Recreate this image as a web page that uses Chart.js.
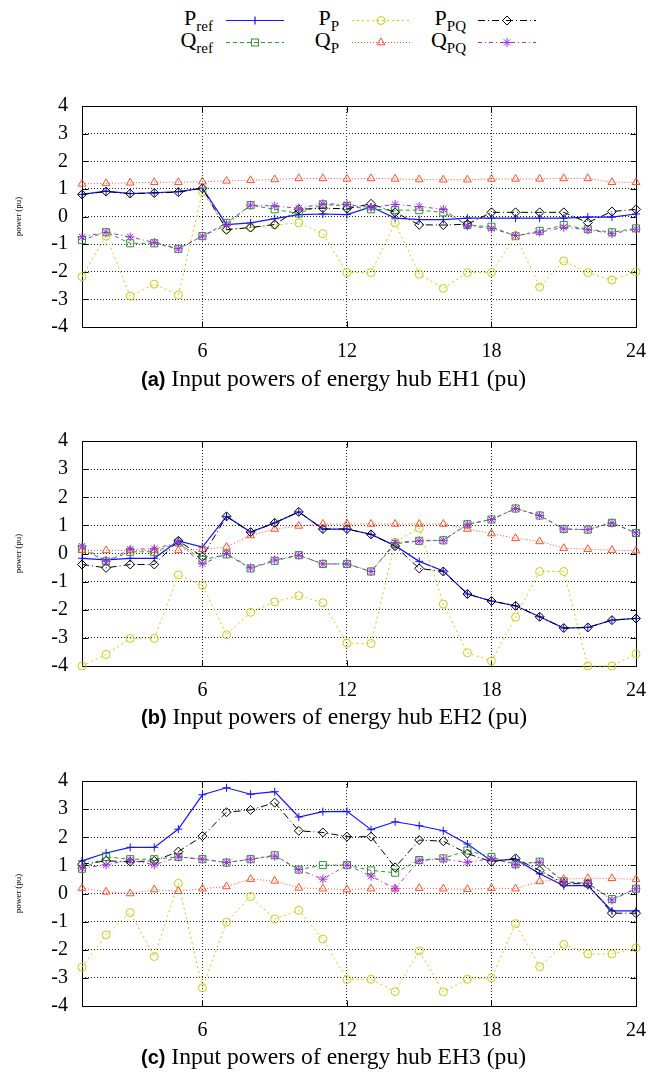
<!DOCTYPE html>
<html>
<head>
<meta charset="utf-8">
<script src="https://cdn.jsdelivr.net/npm/chart.js@4/dist/chart.umd.min.js"></script>
<style>
html,body{margin:0;padding:0;background:#fff;}
body{width:659px;height:1075px;position:relative;overflow:hidden;font-family:"Liberation Serif",serif;color:#000;}
canvas{position:absolute;left:0;}
.lg{position:absolute;font-size:22px;line-height:22px;white-space:nowrap;text-align:right;}
.lg .s{position:relative;top:6px;font-size:15px;}
.lgs{position:absolute;}
.ttl{position:absolute;left:141px;font-size:23.6px;line-height:24px;white-space:nowrap;}
.ttl b{font-family:"Liberation Sans",sans-serif;font-weight:bold;font-size:20px;}
</style>
</head>
<body>
<div id="legend"></div>
<canvas id="cA"></canvas>
<canvas id="cB"></canvas>
<canvas id="cC"></canvas>
<div class="ttl" style="top:366px"><b>(a)</b> Input powers of energy hub EH1 (pu)</div>
<div class="ttl" style="top:704px"><b>(b)</b> Input powers of energy hub EH2 (pu)</div>
<div class="ttl" style="top:1044px"><b>(c)</b> Input powers of energy hub EH3 (pu)</div>
<script>
// ---------------- data ----------------
const hours = [1,2,3,4,5,6,7,8,9,10,11,12,13,14,15,16,17,18,19,20,21,22,23,24];
const xTickValues = [6, 12, 18, 24];
const yTickValues = [-4, -3, -2, -1, 0, 1, 2, 3, 4];
const yAxisTitle = 'power (pu)';

// EH1
const eh1_Pref = [0.80,0.92,0.83,0.86,0.90,1.03,-0.29,-0.23,-0.08,0.07,0.09,0.07,0.35,-0.06,-0.11,-0.11,-0.06,-0.06,-0.06,-0.06,-0.06,-0.02,-0.02,0.09];
const eh1_Qref = [-0.85,-0.57,-0.97,-0.97,-1.17,-0.71,-0.23,0.41,0.26,0.11,0.44,0.38,0.26,0.23,0.23,0.15,-0.31,-0.37,-0.71,-0.52,-0.31,-0.46,-0.57,-0.43];
const eh1_PP   = [-2.18,-0.71,-2.88,-2.45,-2.84,0.90,-0.46,-0.40,-0.31,-0.23,-0.62,-2.03,-2.03,-0.23,-2.09,-2.60,-2.03,-2.03,-0.69,-2.55,-1.61,-2.03,-2.30,-2.00];
const eh1_QP   = [1.18,1.20,1.22,1.24,1.24,1.26,1.29,1.31,1.34,1.38,1.38,1.36,1.38,1.36,1.34,1.33,1.33,1.36,1.36,1.36,1.38,1.38,1.24,1.24];
const eh1_PPQ  = [0.80,0.90,0.83,0.85,0.88,1.02,-0.48,-0.40,-0.29,0.26,0.30,0.28,0.46,0.15,-0.30,-0.31,-0.28,0.15,0.15,0.15,0.15,-0.22,0.18,0.26];
const eh1_QPQ  = [-0.74,-0.57,-0.74,-0.94,-1.17,-0.71,-0.31,0.41,0.38,0.30,0.46,0.44,0.32,0.44,0.36,0.26,-0.34,-0.43,-0.69,-0.57,-0.39,-0.48,-0.62,-0.46];

// EH2
const eh2_Pref = [-0.17,-0.23,-0.17,-0.17,0.45,0.23,1.32,0.76,1.09,1.48,0.87,0.87,0.68,0.28,-0.28,-0.62,-1.44,-1.69,-1.86,-2.25,-2.65,-2.63,-2.37,-2.31];
const eh2_Qref = [0.17,-0.28,0.06,0.06,0.39,-0.23,-0.03,-0.53,-0.26,-0.06,-0.37,-0.37,-0.64,0.34,0.45,0.47,1.04,1.21,1.60,1.35,0.87,0.85,1.09,0.73];
const eh2_PP   = [-4.00,-3.59,-3.02,-3.02,-0.76,-1.13,-2.89,-2.09,-1.72,-1.50,-1.75,-3.19,-3.20,0.40,0.90,-1.80,-3.53,-3.82,-2.26,-0.64,-0.64,-4.00,-4.00,-3.57];
const eh2_QP   = [0.11,0.11,0.11,0.11,0.11,0.15,0.23,0.64,0.87,0.98,1.05,1.05,1.05,1.05,1.05,1.05,0.87,0.71,0.54,0.43,0.19,0.15,0.12,0.10];
const eh2_PPQ  = [-0.39,-0.51,-0.39,-0.39,0.45,-0.11,1.32,0.76,1.09,1.48,0.87,0.87,0.68,0.26,-0.53,-0.64,-1.44,-1.69,-1.86,-2.25,-2.65,-2.63,-2.37,-2.31];
const eh2_QPQ  = [0.26,-0.28,0.15,0.17,0.39,-0.37,0.00,-0.51,-0.23,-0.06,-0.37,-0.37,-0.64,0.39,0.45,0.47,1.04,1.21,1.60,1.35,0.87,0.85,1.09,0.73];

// EH3
const eh3_Pref = [1.16,1.44,1.64,1.64,2.29,3.51,3.76,3.53,3.62,2.72,2.91,2.92,2.27,2.55,2.41,2.23,1.76,1.16,1.22,0.70,0.28,0.28,-0.62,-0.62];
const eh3_Qref = [0.88,1.30,1.22,1.22,1.30,1.22,1.10,1.22,1.36,0.85,1.01,1.01,0.82,0.74,1.19,1.25,1.53,1.30,1.04,1.13,0.43,0.36,-0.20,0.17];
const eh3_PP   = [-2.62,-1.47,-0.68,-2.24,0.36,-3.35,-1.02,-0.11,-0.91,-0.60,-1.62,-3.06,-3.05,-3.49,-2.04,-3.50,-3.05,-3.00,-1.07,-2.60,-1.81,-2.15,-2.15,-1.93];
const eh3_QP   = [0.19,0.06,0.00,0.14,0.08,0.17,0.25,0.51,0.45,0.20,0.17,0.14,0.17,0.17,0.19,0.17,0.15,0.19,0.17,0.43,0.51,0.54,0.54,0.50];
const eh3_PPQ  = [1.04,1.16,1.13,1.16,1.49,2.04,2.89,2.97,3.23,2.23,2.17,2.02,2.02,0.93,1.90,1.86,1.42,1.13,1.25,0.82,0.36,0.34,-0.70,-0.70];
const eh3_QPQ  = [0.90,1.02,1.19,1.02,1.30,1.22,1.10,1.22,1.33,0.85,0.51,1.01,0.62,0.17,1.18,1.22,1.11,1.25,1.02,1.11,0.40,0.36,-0.23,0.17];

const seriesNames = ['Pref','Qref','PP','QP','PPQ','QPQ'];
const legendMain = {Pref:'P', Qref:'Q', PP:'P', QP:'Q', PPQ:'P', QPQ:'Q'};
const legendSub  = {Pref:'ref', Qref:'ref', PP:'P', QP:'P', PPQ:'PQ', QPQ:'PQ'};

// ---------------- styles ----------------
const seriesStyle = {
  Pref: {color:'#1414ff', dash:[],          point:'cross',    r:4,   w:1.2},
  Qref: {color:'#2a9a2a', dash:[4,3],       point:'rect',     r:5,   w:1},
  PP:   {color:'#cccc10', dash:[2,3],       point:'circle',   r:4,   w:1},
  QP:   {color:'#ff4f2a', dash:[1,2],       point:'triangle', r:4.5, w:1},
  PPQ:  {color:'#000000', dash:[7,3,1,3],   point:'rectRot',  r:4.5, w:1},
  QPQ:  {color:'#9b30e0', dash:[4,3,1,3],   point:'star',     r:4.5, w:1}
};

const panels = [
  {canvas:'cA', top:95,  bottom:327,  series:{Pref:eh1_Pref,Qref:eh1_Qref,PP:eh1_PP,QP:eh1_QP,PPQ:eh1_PPQ,QPQ:eh1_QPQ}},
  {canvas:'cB', top:430, bottom:666,  series:{Pref:eh2_Pref,Qref:eh2_Qref,PP:eh2_PP,QP:eh2_QP,PPQ:eh2_PPQ,QPQ:eh2_QPQ}},
  {canvas:'cC', top:770, bottom:1006, series:{Pref:eh3_Pref,Qref:eh3_Qref,PP:eh3_PP,QP:eh3_QP,PPQ:eh3_PPQ,QPQ:eh3_QPQ}}
];

// frame + inner tick marks (gnuplot style)
const framePlugin = {
  id: 'frame',
  beforeDatasetsDraw(chart) {
    const {ctx, chartArea: a, scales} = chart;
    ctx.save();
    ctx.strokeStyle = '#000';
    ctx.lineWidth = 1;
    ctx.setLineDash([]);
    const L = Math.round(a.left) + 0.5, R = Math.round(a.right) + 0.5;
    const T = Math.round(a.top) + 0.5, B = Math.round(a.bottom) + 0.5;
    ctx.strokeRect(L, T, R - L, B - T);
    ctx.beginPath();
    yTickValues.forEach(v => {
      const py = Math.round(scales.y.getPixelForValue(v)) + 0.5;
      ctx.moveTo(L, py); ctx.lineTo(L + 6, py);
      ctx.moveTo(R, py); ctx.lineTo(R - 6, py);
    });
    xTickValues.forEach(v => {
      const px = Math.round(scales.x.getPixelForValue(v)) + 0.5;
      ctx.moveTo(px, B); ctx.lineTo(px, B - 6);
      ctx.moveTo(px, T); ctx.lineTo(px, T + 6);
    });
    ctx.stroke();
    ctx.restore();
  }
};

function makeChart(p) {
  const padTop = 15, xAxisH = 45;
  const cv = document.getElementById(p.canvas);
  const H = (p.bottom - p.top) + padTop + xAxisH;
  cv.width = 659; cv.height = H;
  cv.style.width = '659px'; cv.style.height = H + 'px';
  cv.style.top = (p.top - padTop) + 'px';
  const datasets = seriesNames.map((name, i) => {
    const st = seriesStyle[name];
    return {
      label: name,
      data: p.series[name].map((v, k) => ({x: hours[k], y: v})),
      borderColor: st.color,
      borderWidth: st.w,
      borderDash: st.dash,
      pointStyle: st.point,
      pointRadius: st.r,
      pointBorderColor: st.color,
      pointBackgroundColor: 'rgba(255,255,255,0)',
      pointBorderWidth: 1,
      tension: 0,
      fill: false,
      clip: false,
      order: seriesNames.length - i
    };
  });
  return new Chart(cv, {
    type: 'line',
    data: {datasets},
    plugins: [framePlugin],
    options: {
      responsive: false,
      animation: false,
      devicePixelRatio: 1,
      layout: {padding: {left: 13, right: 16, top: padTop, bottom: 0}},
      plugins: {legend: {display: false}, tooltip: {enabled: false}},
      scales: {
        x: {
          type: 'linear', min: 1, max: 24,
          afterBuildTicks: ax => { ax.ticks = xTickValues.map(v => ({value: v})); },
          afterFit: s => { s.height = xAxisH; },
          grid: {color: '#222', lineWidth: 1, drawTicks: false},
          border: {display: false, dash: [1, 2]},
          ticks: {color: '#000', font: {family: 'Liberation Serif', size: 20}, padding: 13, maxRotation: 0, autoSkip: false}
        },
        y: {
          type: 'linear', min: -4, max: 4,
          afterBuildTicks: ax => { ax.ticks = yTickValues.map(v => ({value: v})); },
          afterFit: s => { s.width = 69; },
          grid: {color: '#222', lineWidth: 1, drawTicks: false},
          border: {display: false, dash: [1, 2]},
          ticks: {color: '#000', font: {family: 'Liberation Serif', size: 20}, padding: 14},
          title: {display: true, text: yAxisTitle, color: '#000', font: {family: 'Liberation Serif', size: 9}, padding: 0}
        }
      }
    }
  });
}
panels.forEach(makeChart);

// ---------------- legend (HTML) ----------------
const legendCols = [{textRight: 213, sampleLeft: 226, names: ['Pref', 'Qref']},
                    {textRight: 339, sampleLeft: 352, names: ['PP', 'QP']},
                    {textRight: 466, sampleLeft: 478, names: ['PPQ', 'QPQ']}];
const legendRows = [20, 42];
function markerSVG(st, cx, cy) {
  const c = st.color;
  switch (st.point) {
    case 'cross': return `<path d="M${cx-4} ${cy}H${cx+4}M${cx} ${cy-4}V${cy+4}" stroke="${c}" stroke-width="1.2"/>`;
    case 'rect': return `<rect x="${cx-3.5}" y="${cy-3.5}" width="7" height="7" fill="none" stroke="${c}"/>`;
    case 'circle': return `<circle cx="${cx}" cy="${cy}" r="4" fill="none" stroke="${c}"/>`;
    case 'triangle': return `<path d="M${cx} ${cy-4.5}L${cx+3.9} ${cy+2.3}L${cx-3.9} ${cy+2.3}Z" fill="none" stroke="${c}"/>`;
    case 'rectRot': return `<path d="M${cx} ${cy-4.5}L${cx+4.5} ${cy}L${cx} ${cy+4.5}L${cx-4.5} ${cy}Z" fill="none" stroke="${c}"/>`;
    case 'star': return `<path d="M${cx-4.5} ${cy}H${cx+4.5}M${cx} ${cy-4.5}V${cy+4.5}M${cx-3.2} ${cy-3.2}L${cx+3.2} ${cy+3.2}M${cx-3.2} ${cy+3.2}L${cx+3.2} ${cy-3.2}" stroke="${c}"/>`;
  }
  return '';
}
let html = '';
legendCols.forEach(col => {
  col.names.forEach((name, r) => {
    const st = seriesStyle[name];
    const yc = legendRows[r];
    html += `<div class="lg" style="right:${659 - col.textRight}px;top:${yc - 13}px">${legendMain[name]}<span class="s">${legendSub[name]}</span></div>`;
    const w = 58;
    html += `<svg class="lgs" width="${w}" height="14" style="left:${col.sampleLeft}px;top:${yc - 7}px">` +
            `<line x1="0" y1="7.5" x2="${w}" y2="7.5" stroke="${st.color}" stroke-width="${st.w}" stroke-dasharray="${st.dash.length ? st.dash.join(' ') : 'none'}"/>` +
            markerSVG(st, w / 2, 7.5) + `</svg>`;
  });
});
document.getElementById('legend').innerHTML = html;
</script>
</body>
</html>
